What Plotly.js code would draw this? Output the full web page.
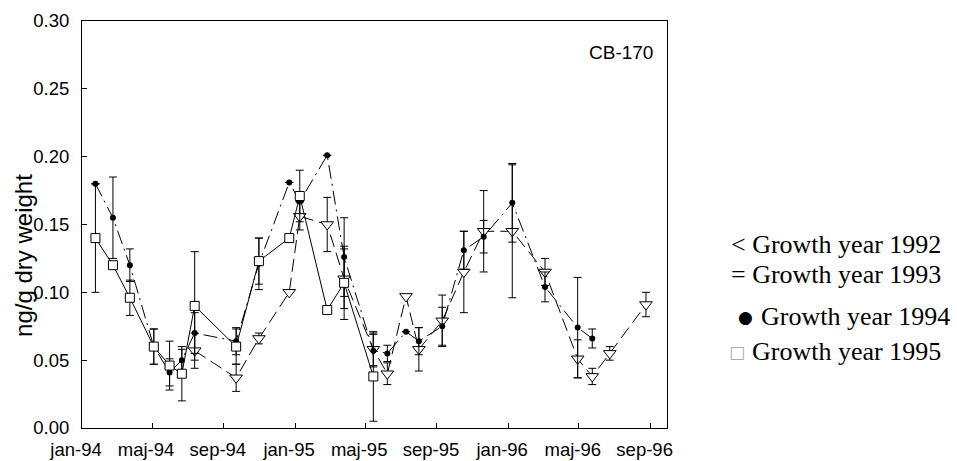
<!DOCTYPE html>
<html>
<head>
<meta charset="utf-8">
<script src="https://cdn.plot.ly/plotly-3.0.1.min.js"></script>
<style>
html,body{margin:0;padding:0;background:#fff;}
#chart{width:957px;height:461px;}
</style>
</head>
<body>
<div id="chart"></div>
<script>
// ---- data ----
const sqDates = ['1994-01-24','1994-02-23','1994-03-24','1994-05-04','1994-05-31','1994-06-21','1994-07-13','1994-09-22','1994-10-31','1994-12-22','1995-01-09','1995-02-25','1995-03-26','1995-05-15'];
const sqVals  = [0.140,0.120,0.096,0.060,0.046,0.040,0.090,0.060,0.123,0.140,0.171,0.087,0.107,0.038];
const sqErr   = [0.040,0,0.013,0.013,0.018,0.020,0.040,0.013,0.017,0,0.019,0,0.027,0.033];

const ciDates = ['1994-01-24','1994-02-23','1994-03-24','1994-05-04','1994-05-31','1994-06-21','1994-07-13','1994-09-22','1994-10-31','1994-12-22','1995-01-09','1995-02-25','1995-03-26','1995-05-15','1995-06-08','1995-07-10','1995-08-01','1995-09-10','1995-10-17','1995-11-20','1996-01-08','1996-03-04','1996-04-29','1996-05-24'];
const ciVals  = [0.180,0.155,0.120,0.060,0.041,0.050,0.070,0.064,0.121,0.181,0.167,0.201,0.126,0.057,0.055,0.071,0.064,0.075,0.131,0.141,0.166,0.104,0.074,0.066];
const ciErr   = [0,0.030,0.012,0.013,0.010,0.008,0.015,0.010,0.019,0,0,0,0.029,0.012,0.006,0,0.010,0.014,0.014,0.012,0.029,0.011,0.037,0.007];

const trDates = ['1994-07-13','1994-09-22','1994-10-31','1994-12-22','1995-01-09','1995-02-25','1995-03-26','1995-05-15','1995-06-08','1995-07-10','1995-08-01','1995-09-10','1995-10-17','1995-11-20','1996-01-08','1996-03-04','1996-04-29','1996-05-24','1996-06-23','1996-08-24'];
const trVals  = [0.057,0.037,0.066,0.100,0.156,0.150,0.110,0.058,0.040,0.097,0.058,0.079,0.115,0.145,0.145,0.115,0.051,0.038,0.055,0.091];
const trErr   = [0.013,0.010,0.004,0,0.010,0.020,0.022,0.012,0.008,0,0.016,0.019,0.030,0.030,0.049,0.010,0.014,0.006,0.005,0.009];

const xTickVals = ['1994-01-01','1994-05-01','1994-09-01','1995-01-01','1995-05-01','1995-09-01','1996-01-01','1996-05-01','1996-09-01'];
const xTickText = ['jan-94','maj-94','sep-94','jan-95','maj-95','sep-95','jan-96','maj-96','sep-96'];
const yTickVals = [0,0.05,0.10,0.15,0.20,0.25,0.30];
const yTickText = ['0.00','0.05','0.10','0.15','0.20','0.25','0.30'];

const yTitle = 'ng/g dry weight';
const panelLabel = 'CB-170';
const legendLabels = ['Growth year 1992','Growth year 1993','Growth year 1994','Growth year 1995'];
const legendGlyphs = ['<','=','\u25CF','\u25A1'];

// ---- layout constants ----
const W = 957, H = 461;
const L = 82, R = 667, T = 20.5, B = 428.5;
const pw = R - L, ph = B - T;
const px = v => (v - L) / pw;      // pixel -> paper x
const py = v => (B - v) / ph;      // pixel -> paper y

const errStyle = arr => ({type:'data', array: arr, visible:true, color:'#000', thickness:1, width:4});

const traces = [
  {
    x: trDates, y: trVals, name: legendLabels[0], type:'scatter', mode:'lines+markers',
    line:{color:'#000', width:1, dash:'13px,6px'},
    marker:{symbol:'triangle-down', size:11, color:'#fff', line:{color:'#000', width:1}},
    error_y: errStyle(trErr)
  },
  {
    x: ciDates, y: ciVals, name: legendLabels[1], type:'scatter', mode:'lines+markers',
    line:{color:'#000', width:1, dash:'14px,5px,2px,5px'},
    marker:{symbol:'circle', size:6, color:'#000'},
    error_y: errStyle(ciErr)
  },
  {
    x: sqDates, y: sqVals, name: legendLabels[3], type:'scatter', mode:'lines+markers',
    line:{color:'#000', width:1},
    marker:{symbol:'square', size:9, color:'#fff', line:{color:'#000', width:1}},
    error_y: errStyle(sqErr)
  }
];

const axisFont = {family:'Liberation Sans, Arial, sans-serif', size:18.5, color:'#000'};
const legFont = {family:'Liberation Serif, Times New Roman, serif', size:26, color:'#000'};

const annotations = [
  {text: panelLabel, xref:'paper', yref:'paper', x: px(655), y: py(52), xanchor:'right', yanchor:'middle', showarrow:false,
   font:{family:'Liberation Sans, Arial, sans-serif', size:19, color:'#000'}},
  {text: yTitle, xref:'paper', yref:'paper', x: px(24), y: py(256), xanchor:'center', yanchor:'middle', textangle:-90, showarrow:false,
   font:{family:'Liberation Sans, Arial, sans-serif', size:24, color:'#000'}},
  {text: legendGlyphs[0] + ' ' + legendLabels[0], xref:'paper', yref:'paper', x: px(729), y: py(245), xanchor:'left', yanchor:'middle', showarrow:false, font: legFont},
  {text: legendGlyphs[1] + ' ' + legendLabels[1], xref:'paper', yref:'paper', x: px(729), y: py(275), xanchor:'left', yanchor:'middle', showarrow:false, font: legFont},
  {text: legendGlyphs[2], xref:'paper', yref:'paper', x: px(745), y: py(317), xanchor:'center', yanchor:'middle', showarrow:false,
   font:{family:'DejaVu Sans, sans-serif', size:17, color:'#000'}},
  {text: legendLabels[2], xref:'paper', yref:'paper', x: px(759), y: py(317), xanchor:'left', yanchor:'middle', showarrow:false, font: legFont},
  {text: legendGlyphs[3], xref:'paper', yref:'paper', x: px(737), y: py(352), xanchor:'center', yanchor:'middle', showarrow:false,
   font:{family:'DejaVu Sans, sans-serif', size:17, color:'#aaa'}},
  {text: legendLabels[3], xref:'paper', yref:'paper', x: px(750), y: py(352), xanchor:'left', yanchor:'middle', showarrow:false, font: legFont}
];

const layout = {
  width: W, height: H,
  margin:{l:L, r:W-R, t:T, b:H-B, pad:0},
  paper_bgcolor:'#fff', plot_bgcolor:'#fff',
  showlegend:false,
  font: axisFont,
  xaxis:{
    type:'date', range:['1994-01-01','1996-09-29'],
    tickmode:'array', tickvals:xTickVals, ticktext:xTickText,
    ticks:'inside', ticklen:5, tickwidth:1, tickcolor:'#000',
    showline:true, linecolor:'#000', linewidth:1, mirror:true,
    showgrid:false, zeroline:false, tickfont: axisFont,
    ticklabelshift:-6, ticklabelstandoff:5
  },
  yaxis:{
    range:[0,0.30], tickmode:'array', tickvals:yTickVals, ticktext:yTickText,
    ticks:'inside', ticklen:5, tickwidth:1, tickcolor:'#000',
    showline:true, linecolor:'#000', linewidth:1, mirror:true,
    showgrid:false, zeroline:false, tickfont: axisFont,
    ticklabelstandoff:8
  },
  annotations: annotations
};

Plotly.newPlot('chart', traces, layout, {displayModeBar:false, staticPlot:true});
</script>
</body>
</html>
